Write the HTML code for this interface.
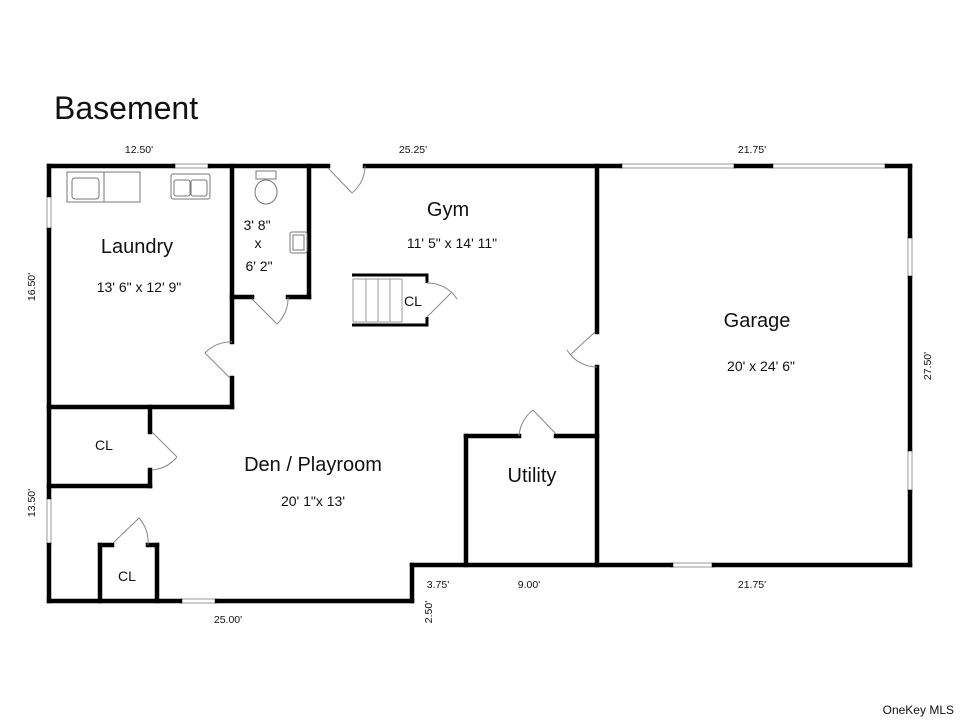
<!DOCTYPE html>
<html><head><meta charset="utf-8"><style>
html,body{margin:0;padding:0;background:#fff;}
svg{display:block;}
text{font-family:"Liberation Sans",Arial,sans-serif;fill:#111;}
</style></head><body>
<svg width="960" height="720" viewBox="0 0 960 720" xmlns="http://www.w3.org/2000/svg">
<rect width="960" height="720" fill="#fff"/>
<text x="54" y="119" font-size="32">Basement</text>

<g stroke="#999" stroke-width="1" fill="#fff">
<rect x="173" y="164" width="37" height="4"/>
<rect x="620" y="164" width="116" height="4"/>
<rect x="771" y="164" width="116" height="4"/>
<rect x="47" y="195" width="4" height="35"/>
<rect x="47" y="497" width="4" height="48"/>
<rect x="908" y="236" width="4" height="42"/>
<rect x="908" y="449" width="4" height="43"/>
<rect x="671" y="563" width="43" height="4"/>
<rect x="180" y="599" width="37" height="4"/>
</g>

<g stroke="#000" stroke-width="4.5" fill="none" stroke-linecap="square">
<line x1="49" y1="166" x2="173" y2="166"/>
<line x1="210" y1="166" x2="328" y2="166"/>
<line x1="365" y1="166" x2="620" y2="166"/>
<line x1="736" y1="166" x2="771" y2="166"/>
<line x1="887" y1="166" x2="910" y2="166"/>
<line x1="49" y1="166" x2="49" y2="195"/>
<line x1="49" y1="230" x2="49" y2="497"/>
<line x1="49" y1="545" x2="49" y2="601"/>
<line x1="49" y1="601" x2="180" y2="601"/>
<line x1="217" y1="601" x2="412" y2="601"/>
<line x1="412" y1="601" x2="412" y2="565"/>
<line x1="412" y1="565" x2="671" y2="565"/>
<line x1="714" y1="565" x2="910" y2="565"/>
<line x1="910" y1="166" x2="910" y2="236"/>
<line x1="910" y1="278" x2="910" y2="449"/>
<line x1="910" y1="492" x2="910" y2="565"/>
<line x1="232" y1="166" x2="232" y2="342"/>
<line x1="232" y1="378" x2="232" y2="407"/>
<line x1="49" y1="407" x2="232" y2="407"/>
<line x1="309" y1="166" x2="309" y2="297"/>
<line x1="232" y1="297" x2="252" y2="297"/>
<line x1="288" y1="297" x2="309" y2="297"/>
<line x1="150" y1="407" x2="150" y2="432"/>
<line x1="150" y1="470" x2="150" y2="486"/>
<line x1="49" y1="486" x2="150" y2="486"/>
<line x1="100" y1="601" x2="100" y2="545"/>
<line x1="100" y1="545" x2="112" y2="545"/>
<line x1="148" y1="545" x2="157" y2="545"/>
<line x1="157" y1="545" x2="157" y2="601"/>
<line x1="466" y1="436" x2="466" y2="565"/>
<line x1="466" y1="436" x2="519" y2="436"/>
<line x1="556" y1="436" x2="597" y2="436"/>
<line x1="597" y1="166" x2="597" y2="332"/>
<line x1="597" y1="367" x2="597" y2="565"/>
</g>
<g stroke="#000" stroke-width="3" fill="none">
<polyline points="352,275 427,275 427,283"/>
<polyline points="352,325 427,325 427,317"/>
</g>
<g stroke="#999" stroke-width="1" fill="none">
<line x1="353" y1="279" x2="353" y2="322"/>
<line x1="353" y1="279" x2="402" y2="279"/>
<line x1="353" y1="322" x2="402" y2="322"/>
<line x1="366" y1="279" x2="366" y2="322"/>
<line x1="378" y1="279" x2="378" y2="322"/>
<line x1="390" y1="279" x2="390" y2="322"/>
<line x1="402" y1="279" x2="402" y2="322"/>
</g>

<g stroke="#888" stroke-width="1" fill="none">
<line x1="328" y1="168" x2="352" y2="193"/><path d="M352 193 A35 35 0 0 0 365 166"/>
<line x1="252" y1="299" x2="277" y2="324"/><path d="M277 324 A35 35 0 0 0 288 297"/>
<line x1="230" y1="378" x2="205" y2="353"/><path d="M205 353 A35 35 0 0 1 232 342"/>
<line x1="152" y1="432" x2="177" y2="457"/><path d="M177 457 A37 37 0 0 1 152 470"/>
<line x1="113" y1="543" x2="139" y2="518"/><path d="M139 518 A36 36 0 0 1 148 545"/>
<line x1="427" y1="317" x2="451" y2="293"/><path d="M427 283 A35 35 0 0 1 457 299"/>
<line x1="556" y1="434" x2="533" y2="410"/><path d="M533 410 A36 36 0 0 0 519 436"/>
<line x1="595" y1="332" x2="570" y2="355"/><path d="M567 350 A35 35 0 0 0 597 367"/>
</g>

<g stroke="#777" stroke-width="1" fill="none">
<rect x="67" y="172" width="37" height="30"/><rect x="72" y="178" width="27" height="21" rx="3"/>
<rect x="104" y="172" width="36" height="30"/>
<rect x="171" y="174" width="39" height="25" rx="2"/><rect x="174" y="180" width="16" height="16" rx="2"/><rect x="191" y="180" width="16" height="16" rx="2"/>
<rect x="256" y="171" width="20" height="8"/><ellipse cx="266" cy="192" rx="11" ry="12"/>
<rect x="290" y="232" width="17" height="21" rx="2"/><rect x="293" y="235" width="11" height="15"/>
</g>

<g font-size="20" text-anchor="middle">
<text x="137" y="253">Laundry</text>
<text x="448" y="216">Gym</text>
<text x="757" y="327">Garage</text>
<text x="313" y="471">Den / Playroom</text>
<text x="532" y="482">Utility</text>
</g>
<g font-size="14" text-anchor="middle">
<text x="139" y="292">13' 6" x 12' 9"</text>
<text x="452" y="248">11' 5" x 14' 11"</text>
<text x="761" y="371">20' x 24' 6"</text>
<text x="313" y="506">20' 1"x 13'</text>
<text x="257" y="230">3' 8"</text>
<text x="258" y="248">x</text>
<text x="259" y="271">6' 2"</text>
<text x="413" y="306">CL</text>
<text x="104" y="450">CL</text>
<text x="127" y="581">CL</text>
</g>
<g font-size="10.5" text-anchor="middle" fill="#222">
<text x="139" y="153">12.50'</text>
<text x="413" y="153">25.25'</text>
<text x="752" y="153">21.75'</text>
<text x="752" y="588">21.75'</text>
<text x="438" y="588">3.75'</text>
<text x="529" y="588">9.00'</text>
<text x="228" y="623">25.00'</text>
<text transform="translate(35,287) rotate(-90)">16.50'</text>
<text transform="translate(35,503) rotate(-90)">13.50'</text>
<text transform="translate(931,366) rotate(-90)">27.50'</text>
<text transform="translate(432,612) rotate(-90)">2.50'</text>
</g>
<text x="954" y="714" font-size="12" text-anchor="end" fill="#aaa">OneKey MLS</text>
</svg>
</body></html>
